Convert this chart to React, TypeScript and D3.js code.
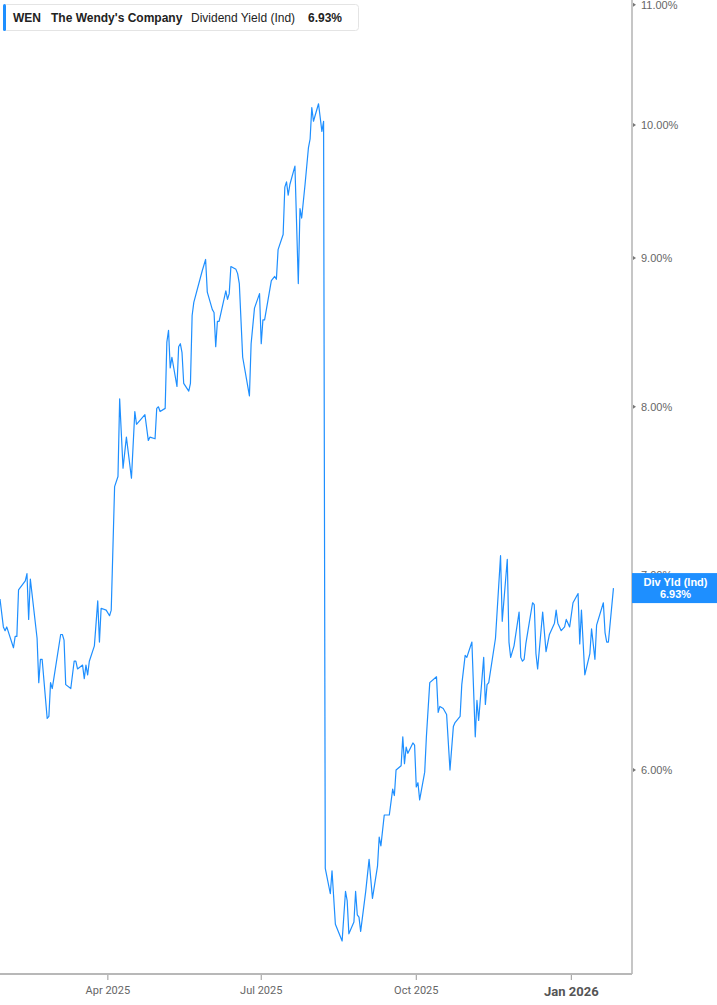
import React from "react";
import * as d3 from "d3";

// WEN indicated dividend yield (%)
const dates = [
  "2025-01-27", "2025-01-29", "2025-01-30", "2025-01-31", "2025-02-04", "2025-02-05", "2025-02-06", "2025-02-07",
  "2025-02-11", "2025-02-12", "2025-02-13", "2025-02-14", "2025-02-18", "2025-02-19", "2025-02-20", "2025-02-21",
  "2025-02-24", "2025-02-25", "2025-02-26", "2025-02-27", "2025-03-04", "2025-03-05", "2025-03-06", "2025-03-07",
  "2025-03-10", "2025-03-12", "2025-03-13", "2025-03-14", "2025-03-17", "2025-03-18", "2025-03-19", "2025-03-20",
  "2025-03-21", "2025-03-24", "2025-03-26", "2025-03-27", "2025-03-28", "2025-03-31", "2025-04-02", "2025-04-03",
  "2025-04-05", "2025-04-07", "2025-04-08", "2025-04-10", "2025-04-12", "2025-04-15", "2025-04-17", "2025-04-18",
  "2025-04-23", "2025-04-25", "2025-04-26", "2025-04-29", "2025-04-30", "2025-05-01", "2025-05-02", "2025-05-05",
  "2025-05-06", "2025-05-07", "2025-05-08", "2025-05-09", "2025-05-12", "2025-05-13", "2025-05-14", "2025-05-15",
  "2025-05-16", "2025-05-19", "2025-05-20", "2025-05-21", "2025-05-22", "2025-05-27", "2025-05-29", "2025-05-30",
  "2025-06-02", "2025-06-03", "2025-06-04", "2025-06-05", "2025-06-06", "2025-06-10", "2025-06-11", "2025-06-12",
  "2025-06-13", "2025-06-16", "2025-06-17", "2025-06-18", "2025-06-20", "2025-06-24", "2025-06-25", "2025-06-27",
  "2025-06-30", "2025-07-01", "2025-07-02", "2025-07-03", "2025-07-07", "2025-07-09", "2025-07-10", "2025-07-11",
  "2025-07-14", "2025-07-15", "2025-07-16", "2025-07-17", "2025-07-18", "2025-07-21", "2025-07-23", "2025-07-24",
  "2025-07-25", "2025-07-27", "2025-07-29", "2025-07-30", "2025-07-31", "2025-08-01", "2025-08-04", "2025-08-06",
  "2025-08-07", "2025-08-08", "2025-08-11", "2025-08-12", "2025-08-14", "2025-08-18", "2025-08-20", "2025-08-21",
  "2025-08-22", "2025-08-25", "2025-08-26", "2025-08-27", "2025-08-28", "2025-08-29", "2025-09-01", "2025-09-03",
  "2025-09-05", "2025-09-08", "2025-09-09", "2025-09-10", "2025-09-12", "2025-09-15", "2025-09-17", "2025-09-18",
  "2025-09-19", "2025-09-22", "2025-09-23", "2025-09-24", "2025-09-25", "2025-09-26", "2025-09-29", "2025-09-30",
  "2025-10-01", "2025-10-02", "2025-10-03", "2025-10-06", "2025-10-07", "2025-10-09", "2025-10-13", "2025-10-14",
  "2025-10-15", "2025-10-17", "2025-10-19", "2025-10-21", "2025-10-23", "2025-10-24", "2025-10-27", "2025-10-28",
  "2025-10-30", "2025-10-31", "2025-11-03", "2025-11-05", "2025-11-06", "2025-11-07", "2025-11-10", "2025-11-11",
  "2025-11-12", "2025-11-13", "2025-11-17", "2025-11-20", "2025-11-21", "2025-11-24", "2025-11-25", "2025-11-26",
  "2025-11-28", "2025-12-01", "2025-12-02", "2025-12-03", "2025-12-04", "2025-12-05", "2025-12-07", "2025-12-09",
  "2025-12-10", "2025-12-11", "2025-12-12", "2025-12-15", "2025-12-17", "2025-12-19", "2025-12-22", "2025-12-23",
  "2025-12-24", "2025-12-26", "2025-12-28", "2025-12-29", "2025-12-31", "2026-01-02", "2026-01-05", "2026-01-06",
  "2026-01-07", "2026-01-09", "2026-01-12", "2026-01-13", "2026-01-15", "2026-01-16", "2026-01-20", "2026-01-21",
  "2026-01-22", "2026-01-23", "2026-01-26",
];

const yieldPct = [
  6.87, 6.72, 6.70, 6.72, 6.61, 6.67, 6.67, 6.92,
  6.97, 7.01, 6.76, 6.98, 6.66, 6.43, 6.55, 6.55,
  6.25, 6.26, 6.43, 6.40, 6.68, 6.68, 6.65, 6.42,
  6.40, 6.54, 6.54, 6.50, 6.52, 6.45, 6.52, 6.47,
  6.54, 6.62, 6.86, 6.64, 6.82, 6.81, 6.78, 6.81,
  7.51, 7.57, 8.05, 7.62, 7.81, 7.56, 7.97, 7.89,
  7.95, 7.79, 7.81, 7.80, 7.99, 8.00, 7.97, 7.99,
  8.42, 8.50, 8.25, 8.32, 8.13, 8.39, 8.41, 8.35,
  8.15, 8.10, 8.15, 8.60, 8.69, 8.91, 8.99, 8.76,
  8.64, 8.62, 8.39, 8.56, 8.56, 8.77, 8.71, 8.75,
  8.94, 8.92, 8.89, 8.82, 8.32, 8.07, 8.41, 8.65,
  8.75, 8.41, 8.57, 8.57, 8.84, 8.87, 8.85, 9.06,
  9.17, 9.52, 9.56, 9.46, 9.54, 9.68, 8.82, 9.36,
  9.29, 9.54, 9.82, 9.89, 10.14, 10.03, 10.17, 9.95,
  10.03, 5.55, 5.44, 5.54, 5.31, 5.24, 5.45, 5.41,
  5.27, 5.32, 5.45, 5.35, 5.34, 5.28, 5.45, 5.59,
  5.42, 5.56, 5.69, 5.65, 5.79, 5.79, 5.91, 5.88,
  6.00, 6.02, 6.16, 6.03, 6.11, 6.08, 6.13, 6.12,
  5.92, 5.94, 5.86, 5.99, 6.16, 6.43, 6.46, 6.28,
  6.31, 6.30, 6.27, 6.00, 6.21, 6.23, 6.26, 6.42,
  6.57, 6.56, 6.64, 6.16, 6.34, 6.24, 6.56, 6.32,
  6.42, 6.43, 6.66, 7.11, 6.75, 7.09, 6.64, 6.56,
  6.62, 6.80, 6.56, 6.54, 6.55, 6.63, 6.74, 6.85,
  6.84, 6.58, 6.50, 6.80, 6.59, 6.68, 6.74, 6.81,
  6.74, 6.70, 6.72, 6.76, 6.72, 6.85, 6.90, 6.63,
  6.81, 6.47, 6.58, 6.71, 6.55, 6.73, 6.85, 6.69,
  6.64, 6.64, 6.93,
];

const yTicks = [6, 7, 8, 9, 10, 11];
const xTicks = ["2025-04-01", "2025-07-01", "2025-10-01", "2026-01-01"];
const xTickLabels = ["Apr 2025", "Jul 2025", "Oct 2025", "Jan 2026"];

const ticker = "WEN";
const company = "The Wendy's Company";
const metric = "Dividend Yield (Ind)";
const badgeTitle = "Div Yld (Ind)";

const width = 717;
const height = 1005;
const plotRight = 632;
const plotBottom = 974;
const blue = "#1e8fff";
const font = "'Liberation Sans', Arial, sans-serif";

const parse = d3.timeParse("%Y-%m-%d");

export default function App() {
  const points = dates.map((d, i) => ({ date: parse(d)!, v: yieldPct[i] }));
  const last = points[points.length - 1];

  const x = d3
    .scaleTime()
    .domain([parse("2025-01-27")!, parse("2026-02-06")!])
    .range([0, plotRight]);

  // log scale, matches the uneven spacing of the % gridlines
  const y = d3.scaleLog().domain([5.105, 11.041]).range([plotBottom, 0]);

  const line = d3
    .line<{ date: Date; v: number }>()
    .x((d) => x(d.date))
    .y((d) => y(d.v));

  const fmt = (v: number) => `${v.toFixed(2)}%`;
  const badgeY = y(last.v);
  const badgeMid = (plotRight + width) / 2 + 1;

  return (
    <svg
      width={width}
      height={height}
      style={{ position: "absolute", left: 0, top: 0, background: "#fff" }}
      fontFamily={font}
    >
      <defs>
        <clipPath id="plot">
          <rect x={0} y={0} width={plotRight} height={plotBottom} />
        </clipPath>
      </defs>

      {/* series */}
      <path
        d={line(points) ?? ""}
        fill="none"
        stroke={blue}
        strokeWidth={1.2}
        strokeLinejoin="round"
        clipPath="url(#plot)"
      />

      {/* right axis */}
      <line x1={plotRight} x2={plotRight} y1={0} y2={plotBottom} stroke="#a0a0a0" strokeWidth={1.2} />
      {yTicks.map((t) => (
        <g key={t} transform={`translate(${plotRight},${y(t)})`}>
          <path d="M1,-2 L4,0 L1,2 Z" fill="#777" />
          <text x={9} dy="0.36em" fontSize={11} fill="#666">
            {fmt(t)}
          </text>
        </g>
      ))}

      {/* bottom axis */}
      <line x1={0} x2={plotRight} y1={plotBottom} y2={plotBottom} stroke="#b8b8b8" strokeWidth={2} />
      {xTicks.map((t, i) => {
        const isYear = i === xTicks.length - 1;
        const tx = x(parse(t)!);
        return (
          <g key={t} transform={`translate(${tx},${plotBottom})`}>
            <line y1={1} y2={6} stroke="#999" />
            <text
              y={isYear ? 22 : 20}
              textAnchor="middle"
              fontSize={isYear ? 13 : 11}
              fontWeight={isYear ? 700 : 400}
              fill={isYear ? "#555" : "#666"}
              fontFamily="Roboto, sans-serif"
            >
              {xTickLabels[i]}
            </text>
          </g>
        );
      })}

      {/* last value badge */}
      <rect x={plotRight} y={badgeY - 15} width={width - plotRight} height={30} fill={blue} />
      <text x={badgeMid} y={badgeY - 2} textAnchor="middle" fontSize={11} fontWeight={700} fill="#fff">
        {badgeTitle}
      </text>
      <text x={badgeMid} y={badgeY + 10} textAnchor="middle" fontSize={11} fontWeight={700} fill="#fff">
        {fmt(last.v)}
      </text>

      {/* legend */}
      <g transform="translate(3,4)">
        <rect x={0.5} y={0.5} width={355} height={26} rx={3} fill="#fff" stroke="#e4e4e4" />
        <rect x={0} y={0} width={3} height={27} rx={1.5} fill={blue} />
        <text y={18} fontSize={12} fill="#222">
          <tspan x={10} fontWeight={700}>{ticker}</tspan>
          <tspan x={48} fontWeight={700}>{company}</tspan>
          <tspan x={188}>{metric}</tspan>
          <tspan x={305} fontWeight={700}>{fmt(last.v)}</tspan>
        </text>
      </g>
    </svg>
  );
}
